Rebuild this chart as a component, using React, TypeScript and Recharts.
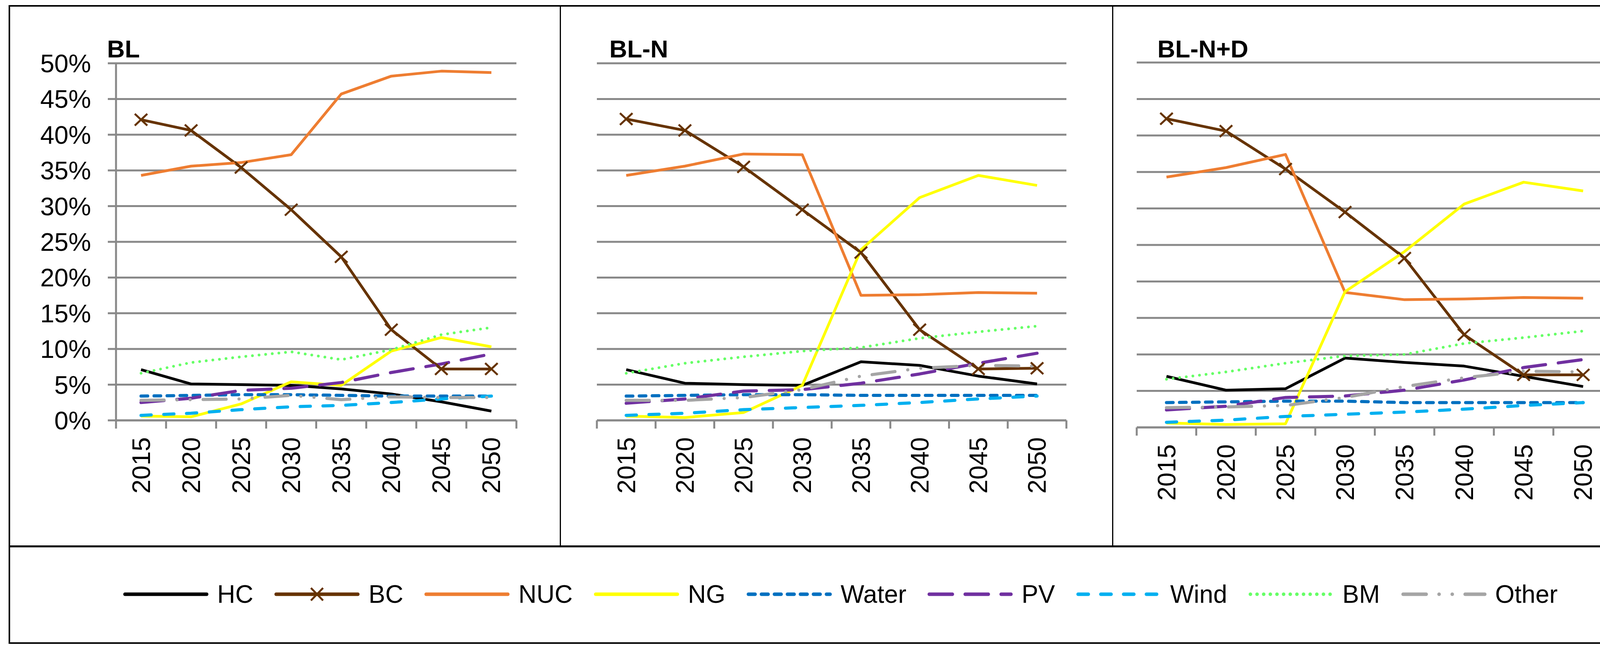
import React from 'react';
import { LineChart, Line, XAxis, YAxis, CartesianGrid } from 'recharts';

const YEARS = ['2015', '2020', '2025', '2030', '2035', '2040', '2045', '2050'];
const Y_TICKS = [0, 5, 10, 15, 20, 25, 30, 35, 40, 45, 50];

// BL
const BL_HC = [7.1, 5.1, 5.0, 4.9, 4.4, 3.7, 2.6, 1.3];
const BL_BC = [42.1, 40.6, 35.4, 29.5, 22.9, 12.7, 7.2, 7.2];
const BL_NUC = [34.3, 35.6, 36.1, 37.2, 45.7, 48.2, 48.9, 48.7];
const BL_NG = [0.6, 0.5, 2.3, 5.4, 4.9, 9.7, 11.6, 10.3];
const BL_WATER = [3.4, 3.5, 3.6, 3.6, 3.5, 3.4, 3.4, 3.4];
const BL_PV = [2.5, 3.1, 4.2, 4.5, 5.3, 6.7, 7.9, 9.3];
const BL_WIND = [0.7, 1.0, 1.5, 1.9, 2.1, 2.5, 3.0, 3.4];
const BL_BM = [6.6, 8.1, 8.9, 9.6, 8.5, 9.9, 12.0, 13.0];
const BL_OTHER = [2.8, 2.9, 3.0, 3.5, 2.9, 3.3, 3.2, 3.2];

// BL-N
const BLN_HC = [7.1, 5.2, 5.0, 4.9, 8.2, 7.7, 6.2, 5.1];
const BLN_BC = [42.2, 40.6, 35.5, 29.5, 23.5, 12.7, 7.2, 7.3];
const BLN_NUC = [34.3, 35.6, 37.3, 37.2, 17.5, 17.6, 17.9, 17.8];
const BLN_NG = [0.6, 0.4, 1.1, 4.9, 23.9, 31.2, 34.3, 32.9];
const BLN_WATER = [3.4, 3.5, 3.6, 3.6, 3.5, 3.5, 3.5, 3.5];
const BLN_PV = [2.4, 3.0, 4.1, 4.3, 5.2, 6.5, 8.0, 9.4];
const BLN_WIND = [0.7, 1.0, 1.5, 1.8, 2.1, 2.5, 3.0, 3.4];
const BLN_BM = [6.6, 8.0, 8.9, 9.7, 10.2, 11.5, 12.4, 13.2];
const BLN_OTHER = [2.8, 2.8, 3.2, 4.3, 6.2, 7.3, 7.7, 7.6];

// BL-N+D
const BLND_HC = [7.0, 5.1, 5.3, 9.5, 8.9, 8.4, 7.0, 5.6];
const BLND_BC = [42.3, 40.6, 35.4, 29.5, 23.2, 12.7, 7.2, 7.2];
const BLND_NUC = [34.3, 35.6, 37.4, 18.5, 17.5, 17.6, 17.8, 17.7];
const BLND_NG = [0.6, 0.4, 0.5, 18.6, 24.1, 30.6, 33.6, 32.4];
const BLND_WATER = [3.4, 3.5, 3.6, 3.6, 3.4, 3.4, 3.4, 3.4];
const BLND_PV = [2.4, 2.9, 4.1, 4.3, 5.1, 6.5, 8.2, 9.3];
const BLND_WIND = [0.7, 1.0, 1.5, 1.8, 2.1, 2.5, 3.0, 3.4];
const BLND_BM = [6.6, 7.6, 8.8, 9.8, 10.0, 11.5, 12.3, 13.2];
const BLND_OTHER = [2.7, 2.8, 3.0, 4.1, 5.6, 6.8, 7.7, 7.6];

const FONT = '"Liberation Sans", Arial, sans-serif';
const GRID = '#898989';

const SERIES = [
  { key: 'HC', color: '#000000', dash: undefined as string | undefined, width: 7 },
  { key: 'BC', color: '#663300', dash: undefined, width: 7 },
  { key: 'NUC', color: '#EE7D31', dash: undefined, width: 7 },
  { key: 'NG', color: '#FFFF00', dash: undefined, width: 7 },
  { key: 'Water', color: '#0070C0', dash: '17 16.3', width: 8 },
  { key: 'PV', color: '#7030A0', dash: '59 33', width: 8 },
  { key: 'Wind', color: '#00B0F0', dash: '26 32.3', width: 8 },
  { key: 'BM', color: '#66FF66', dash: '0.1 16.9', width: 7 },
  { key: 'Other', color: '#A5A5A5', dash: '59 33 0.1 33.6 0.1 33', width: 8 },
];

const buildRows = (cols: Record<string, number[]>) =>
  YEARS.map((year, i) => {
    const row: Record<string, any> = { year };
    Object.keys(cols).forEach((k) => (row[k] = cols[k][i]));
    return row;
  });

const BL_ROWS = buildRows({ HC: BL_HC, BC: BL_BC, NUC: BL_NUC, NG: BL_NG, Water: BL_WATER, PV: BL_PV, Wind: BL_WIND, BM: BL_BM, Other: BL_OTHER });
const BLN_ROWS = buildRows({ HC: BLN_HC, BC: BLN_BC, NUC: BLN_NUC, NG: BLN_NG, Water: BLN_WATER, PV: BLN_PV, Wind: BLN_WIND, BM: BLN_BM, Other: BLN_OTHER });
const BLND_ROWS = buildRows({ HC: BLND_HC, BC: BLND_BC, NUC: BLND_NUC, NG: BLND_NG, Water: BLND_WATER, PV: BLND_PV, Wind: BLND_WIND, BM: BLND_BM, Other: BLND_OTHER });

const XMark = (props: any) => {
  const { cx, cy, index } = props;
  if (cx == null || cy == null) return <g key={`x-${index}`} />;
  const sx = 16;
  const sy = 15;
  return (
    <path
      key={`x-${index}`}
      d={`M${cx - sx},${cy - sy}L${cx + sx},${cy + sy}M${cx - sx},${cy + sy}L${cx + sx},${cy - sy}`}
      stroke="#663300"
      strokeWidth={5}
      fill="none"
    />
  );
};

const EmptyTick = () => <g />;

const makeXTick = (bw: number) => (props: any) => {
  const { x, y, payload, index } = props;
  const ay = y - 43;
  return (
    <g>
      <line x1={x - bw / 2} x2={x - bw / 2} y1={ay} y2={ay + 21} stroke={GRID} strokeWidth={5} />
      {index === YEARS.length - 1 && (
        <line x1={x + bw / 2} x2={x + bw / 2} y1={ay} y2={ay + 21} stroke={GRID} strokeWidth={5} />
      )}
      <text
        x={x}
        y={y}
        transform={`rotate(-90 ${x} ${y})`}
        textAnchor="end"
        dominantBaseline="central"
        fontSize={65}
        fontFamily={FONT}
        fill="#000"
      >
        {payload.value}
      </text>
    </g>
  );
};

type PanelProps = {
  title: string;
  rows: any[];
  left: number;
  width: number;
  plotLeft: number;
  plotRight: number;
  plotTop: number;
  plotBottom: number;
  titleX: number;
  showY: boolean;
};

const H = 1390;

const Panel = ({ title, rows, left, width, plotLeft, plotRight, plotTop, plotBottom, titleX, showY }: PanelProps) => {
  const bw = (plotRight - plotLeft) / YEARS.length;
  const xAxisH = 200;
  return (
    <>
      <div
        style={{
          position: 'absolute',
          left: titleX - 4,
          top: 94,
          fontSize: 63,
          fontWeight: 'bold',
          lineHeight: 1,
          fontFamily: FONT,
          whiteSpace: 'nowrap',
        }}
      >
        {title}
      </div>
      <div style={{ position: 'absolute', left, top: 0 }}>
        <LineChart
          width={width}
          height={H}
          data={rows}
          margin={{
            top: plotTop,
            left: showY ? 0 : plotLeft - left,
            right: left + width - plotRight,
            bottom: H - plotBottom - xAxisH,
          }}
        >
          <CartesianGrid vertical={false} horizontal stroke={GRID} strokeWidth={5} />
          <XAxis
            dataKey="year"
            interval={0}
            height={xAxisH}
            padding={{ left: bw / 2, right: bw / 2 }}
            tickLine={false}
            tickSize={21}
            tickMargin={22}
            axisLine={{ stroke: GRID, strokeWidth: 5 }}
            tick={makeXTick(bw)}
          />
          {showY ? (
            <YAxis
              domain={[0, 50]}
              ticks={Y_TICKS}
              interval={0}
              width={plotLeft - left}
              tickFormatter={(v: number) => `${v}%`}
              tickSize={21}
              tickMargin={43}
              axisLine={{ stroke: GRID, strokeWidth: 5 }}
              tickLine={{ stroke: GRID, strokeWidth: 5 }}
              tick={{ fill: '#000', fontSize: 65, fontFamily: FONT }}
            />
          ) : (
            <YAxis
              domain={[0, 50]}
              ticks={Y_TICKS}
              interval={0}
              width={0}
              axisLine={false}
              tickLine={false}
              tick={EmptyTick}
            />
          )}
          {SERIES.map((s) => (
            <Line
              key={s.key}
              type="linear"
              dataKey={s.key}
              stroke={s.color}
              strokeWidth={s.width}
              strokeDasharray={s.dash}
              strokeLinecap={s.dash ? 'round' : 'butt'}
              strokeLinejoin="round"
              dot={s.key === 'BC' ? XMark : false}
              activeDot={false}
              isAnimationActive={false}
            />
          ))}
        </LineChart>
      </div>
    </>
  );
};

const LegendItem = ({ s }: { s: (typeof SERIES)[number] }) => (
  <div style={{ display: 'flex', alignItems: 'center' }}>
    <svg width={219} height={44} style={{ display: 'block' }}>
      <line
        x1={5}
        x2={214}
        y1={22}
        y2={22}
        stroke={s.color}
        strokeWidth={9}
        strokeDasharray={s.dash}
        strokeLinecap="round"
      />
      {s.key === 'BC' && (
        <path d="M94,6L125,38M94,38L125,6" stroke="#663300" strokeWidth={5} fill="none" />
      )}
    </svg>
    <span style={{ marginLeft: 22, fontSize: 64, lineHeight: 1, fontFamily: FONT }}>{s.key}</span>
  </div>
);

export default function App() {
  return (
    <div style={{ position: 'absolute', left: 0, top: 0, width: 4294, height: 1674, background: '#fff', fontFamily: FONT }}>
      {/* outer frame */}
      <div style={{ position: 'absolute', left: 22, top: 13, width: 4232, height: 1627, border: '4px solid #000' }} />
      <div style={{ position: 'absolute', left: 26, top: 1396, width: 4232, height: 5, background: '#000' }} />
      <div style={{ position: 'absolute', left: 1433, top: 17, width: 3, height: 1380, background: '#000' }} />
      <div style={{ position: 'absolute', left: 2847, top: 17, width: 3, height: 1380, background: '#000' }} />

      <Panel title="BL" rows={BL_ROWS} left={30} width={1400} plotLeft={297} plotRight={1322} plotTop={162} plotBottom={1076} titleX={278} showY />
      <Panel title="BL-N" rows={BLN_ROWS} left={1440} width={1400} plotLeft={1528} plotRight={2730} plotTop={162} plotBottom={1076} titleX={1564} showY={false} />
      <Panel title="BL-N+D" rows={BLND_ROWS} left={2855} width={1400} plotLeft={2910} plotRight={4129} plotTop={160} plotBottom={1094} titleX={2967} showY={false} />

      <div
        style={{
          position: 'absolute',
          left: 315,
          top: 1491,
          height: 60,
          display: 'flex',
          justifyContent: 'flex-start',
          alignItems: 'center',
          gap: 54,
          whiteSpace: 'nowrap',
        }}
      >
        {SERIES.map((s) => (
          <LegendItem key={s.key} s={s} />
        ))}
      </div>
    </div>
  );
}
